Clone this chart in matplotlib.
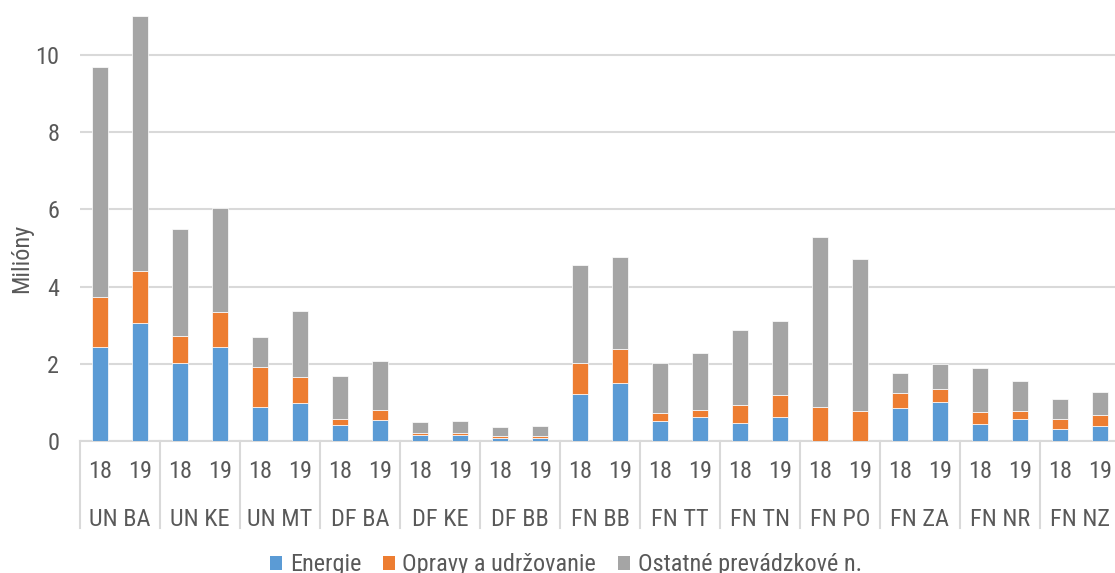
import numpy as np
import matplotlib
matplotlib.use("Agg")
import matplotlib.pyplot as plt
from matplotlib.patches import Patch

plt.rcParams['font.family'] = ['Roboto Condensed', 'Liberation Sans', 'DejaVu Sans']

groups = ['UN BA', 'UN KE', 'UN MT', 'DF BA', 'DF KE', 'DF BB', 'FN BB',
          'FN TT', 'FN TN', 'FN PO', 'FN ZA', 'FN NR', 'FN NZ']
years = ['18', '19']

# values in millions, one entry per bar (group x year)
energie = [2.43, 3.05, 2.03, 2.44, 0.88, 0.98, 0.41, 0.55, 0.16, 0.155, 0.08, 0.09,
           1.22, 1.50, 0.53, 0.61, 0.46, 0.61, 0.0, 0.0, 0.86, 1.01, 0.43, 0.56, 0.32, 0.38]
opravy = [1.29, 1.36, 0.70, 0.89, 1.05, 0.69, 0.15, 0.26, 0.04, 0.065, 0.06, 0.05,
          0.81, 0.88, 0.19, 0.20, 0.48, 0.59, 0.87, 0.79, 0.38, 0.35, 0.31, 0.23, 0.26, 0.29]
ostatne = [5.98, 6.59, 2.75, 2.71, 0.77, 1.71, 1.12, 1.27, 0.30, 0.31, 0.23, 0.24,
           2.54, 2.39, 1.29, 1.46, 1.94, 1.91, 4.41, 3.92, 0.51, 0.64, 1.15, 0.76, 0.50, 0.60]

series = ['Energie', 'Opravy a udržovanie', 'Ostatné prevádzkové n.']
colors = ['#5B9BD5', '#ED7D31', '#A5A5A5']
txt = '#595959'
grid = '#D9D9D9'
fs = 17.5

W, H = 1115, 573
fig = plt.figure(figsize=(W / 100, H / 100), dpi=100)
ax = fig.add_axes([80 / W, (H - 441) / H, 1040 / W, 441 / H])

x = np.arange(len(energie))
e = np.array(energie)
o = np.array(opravy)
s = np.array(ostatne)
ax.bar(x, e, width=0.4, color=colors[0], edgecolor='white', linewidth=0.5, zorder=3)
ax.bar(x, o, width=0.4, bottom=e, color=colors[1], edgecolor='white', linewidth=0.5, zorder=3)
ax.bar(x, s, width=0.4, bottom=e + o, color=colors[2], edgecolor='white', linewidth=0.5, zorder=3)

ax.set_xlim(-0.5, len(energie) - 0.5)
ax.set_ylim(0, 441 / 38.6)
ax.set_yticks([0, 2, 4, 6, 8, 10])
ax.yaxis.grid(True, color=grid, linewidth=1.5, zorder=0)
ax.tick_params(axis='y', length=0, pad=15, labelsize=fs, labelcolor=txt)

ax.set_xticks(x)
ax.set_xticklabels(years * len(groups))
ax.tick_params(axis='x', length=0, pad=14, labelsize=fs, labelcolor=txt)

for sp in ['top', 'right', 'left']:
    ax.spines[sp].set_visible(False)
ax.spines['bottom'].set_color(grid)
ax.spines['bottom'].set_linewidth(1.5)

tr = ax.get_xaxis_transform()
for i, g in enumerate(groups):
    ax.text(2 * i + 0.5, -78 / 441, g, transform=tr, ha='center', va='center',
            fontsize=fs, color=txt)
for i in range(len(groups) + 1):
    ax.plot([2 * i - 0.5, 2 * i - 0.5], [0, -87 / 441], transform=tr, color=grid,
            linewidth=1.5, clip_on=False)

fig.text(22 / W, 1 - 258 / H, 'Milióny', rotation=90, ha='center', va='center',
         fontsize=fs, color=txt)

handles = [Patch(facecolor=c) for c in colors]
leg = fig.legend(handles, series, loc='center', bbox_to_anchor=(566 / W, 1 - 565 / H),
                 ncol=3, frameon=False, fontsize=fs, handlelength=0.5, handleheight=0.5,
                 handletextpad=0.3, columnspacing=0.9, labelcolor=txt)

fig.savefig('out.png', dpi=100)
